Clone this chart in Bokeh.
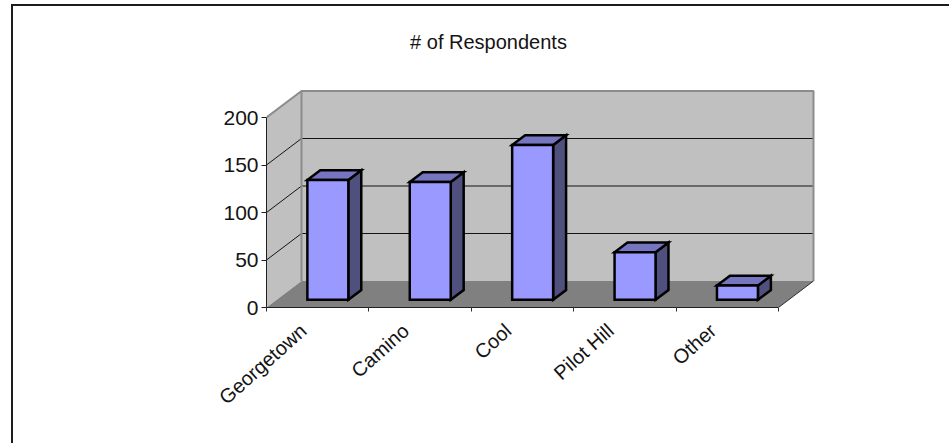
from bokeh.embed import file_html
from bokeh.models import FixedTicker, Label, LinearAxis, Range1d
from bokeh.plotting import figure
from bokeh.resources import INLINE

# Survey responses by community
categories = ["Georgetown", "Camino", "Cool", "Pilot Hill", "Other"]
respondents = [126, 124, 163, 50, 15]
value_ticks = [0, 50, 100, 150, 200]
chart_title = "# of Respondents"

PAGE_WIDTH, PAGE_HEIGHT = 951, 445
MARGIN_TOP, MARGIN_LEFT = 4, 11          # page gutter outside the chart's border
BORDER = 2
ORIGIN_X, ORIGIN_Y = 266, 307            # page position of the axes origin
FRAME_LEFT = ORIGIN_X - MARGIN_LEFT - BORDER
FRAME_BOTTOM = ORIGIN_Y - MARGIN_TOP - BORDER
WIDTH = PAGE_WIDTH - MARGIN_LEFT - BORDER
HEIGHT = PAGE_HEIGHT - MARGIN_TOP - BORDER
PX_PER_CAT, PX_PER_VAL = 102.4, 0.95
WALL_DX, WALL_DY = 35 / PX_PER_CAT, 26.5 / PX_PER_VAL   # full depth of the 3D box, data units
BAR_WIDTH = 0.40
BAR_NEAR, BAR_FAR = 0.29, 0.66           # depth span of each bar, as a fraction of the box
NAME_SHIFT = 0.14                        # rotated names end a little left of the slot centre


def proj(x, y, depth):
    """Oblique projection: move a point back into the box by a depth fraction."""
    return x + WALL_DX * depth, y + WALL_DY * depth


def poly(points):
    return [pt[0] for pt in points], [pt[1] for pt in points]


p = figure(
    width=WIDTH, height=HEIGHT, output_backend="svg", toolbar_location=None,
    x_range=Range1d(0, (WIDTH - FRAME_LEFT) / PX_PER_CAT),
    y_range=Range1d(0, FRAME_BOTTOM / PX_PER_VAL),
    x_axis_type=None, y_axis_type=None,
    min_border_left=FRAME_LEFT, min_border_right=0, min_border_top=0,
    min_border_bottom=HEIGHT - FRAME_BOTTOM,
    background_fill_color="white", border_fill_color="white", outline_line_color=None,
    margin=(MARGIN_TOP, 0, 0, MARGIN_LEFT),
    styles={"border-top": f"{BORDER}px solid #1c1c1c", "border-left": f"{BORDER}px solid #1c1c1c"},
)
p.grid.visible = False

n = len(categories)
TOP = value_ticks[-1]

# Walls and floor of the box
wall_grey, floor_grey, frame_grey = "#C0C0C0", "#808080", "#8C8C8C"
xs, ys = poly([proj(0, 0, 1), proj(n, 0, 1), proj(n, TOP, 1), proj(0, TOP, 1)])
p.patch(xs, ys, fill_color=wall_grey, line_color=None)
xs, ys = poly([proj(0, 0, 0), proj(0, 0, 1), proj(0, TOP, 1), proj(0, TOP, 0)])
p.patch(xs, ys, fill_color=wall_grey, line_color=None)
xs, ys = poly([proj(0, 0, 0), proj(n, 0, 0), proj(n, 0, 1), proj(0, 0, 1)])
p.patch(xs, ys, fill_color=floor_grey, line_color=None)

# Gridlines run along the left wall and across the back wall
for v in value_ticks[1:-1]:
    xs, ys = poly([proj(0, v, 0), proj(0, v, 1), proj(n, v, 1)])
    p.line(xs, ys, line_color="#141414", line_width=1)

# Grey edges of the box
xs, ys = poly([proj(0, TOP, 0), proj(0, TOP, 1), proj(n, TOP, 1), proj(n, 0, 1)])
p.line(xs, ys, line_color=frame_grey, line_width=2)
xs, ys = poly([proj(0, TOP, 1), proj(0, 0, 1)])
p.line(xs, ys, line_color=frame_grey, line_width=2)
xs, ys = poly([proj(n, 0, 1), proj(n, 0, 0)])
p.line(xs, ys, line_color="#303030", line_width=1)

# 3D bars: side face, top face, then front face
for i, val in enumerate(respondents):
    x0 = i + 0.5 - BAR_WIDTH / 2
    x1 = i + 0.5 + BAR_WIDTH / 2
    side = [proj(x1, 0, BAR_NEAR), proj(x1, 0, BAR_FAR), proj(x1, val, BAR_FAR), proj(x1, val, BAR_NEAR)]
    top = [proj(x0, val, BAR_NEAR), proj(x1, val, BAR_NEAR), proj(x1, val, BAR_FAR), proj(x0, val, BAR_FAR)]
    front = [proj(x0, 0, BAR_NEAR), proj(x1, 0, BAR_NEAR), proj(x1, val, BAR_NEAR), proj(x0, val, BAR_NEAR)]
    for face, colour in ((side, "#50507F"), (top, "#7676C0"), (front, "#9999FF")):
        xs, ys = poly(face)
        p.patch(xs, ys, fill_color=colour, line_color="black", line_width=2.5, line_join="miter")

font = "Liberation Sans"

y_axis = LinearAxis(
    ticker=FixedTicker(ticks=value_ticks), bounds=(0, TOP),
    axis_line_color="#202020", axis_line_width=1,
    major_tick_line_color="#202020", major_tick_in=0, major_tick_out=5,
    minor_tick_line_color=None,
    major_label_text_font=font, major_label_text_font_size="21px",
    major_label_text_color="#141414", major_label_standoff=3,
)
p.add_layout(y_axis, "left")

# Tick marks sit between the categories
tick_axis = LinearAxis(
    ticker=FixedTicker(ticks=list(range(n + 1))), bounds=(0, n),
    axis_line_color="#202020", axis_line_width=1,
    major_tick_line_color="#303030", major_tick_in=0, major_tick_out=4,
    minor_tick_line_color=None,
    major_label_overrides={k: "" for k in range(n + 1)},
    major_label_text_font_size="1px", major_label_standoff=0,
)
p.add_layout(tick_axis, "below")

# Category names are placed by a separate axis beneath the tick marks
name_ticks = [i + 0.5 - NAME_SHIFT for i in range(n)]
name_axis = LinearAxis(
    ticker=FixedTicker(ticks=name_ticks), bounds=(0, n),
    axis_line_color=None, major_tick_line_color=None, minor_tick_line_color=None,
    major_label_overrides=dict(zip(name_ticks, categories)),
    major_label_orientation=0.73,
    major_label_text_font=font, major_label_text_font_size="20px",
    major_label_text_color="#141414", major_label_standoff=10,
)
p.add_layout(name_axis, "below")

# Title position is measured from the frame's lower left corner
p.add_layout(Label(x=488 - ORIGIN_X, y=ORIGIN_Y - 41, x_units="screen", y_units="screen",
                   text=chart_title, text_font=font, text_font_size="20px",
                   text_color="#141414", text_align="center", text_baseline="middle"))

open("out.html", "w").write(file_html(p, INLINE))
